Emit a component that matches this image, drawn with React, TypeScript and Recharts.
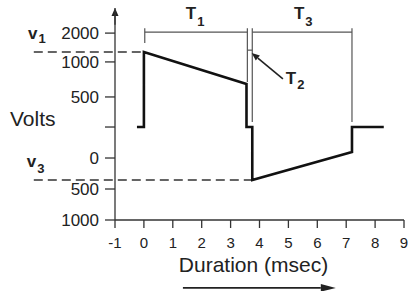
import React from 'react';
import { LineChart, Line, XAxis, YAxis, ReferenceLine, ReferenceDot } from 'recharts';

// waveform, x in msec, y in axis position units (the volts axis is not linear)
const waveT = [-0.24, 0, 0, 3.55, 3.55, 3.75, 3.75, 7.2, 7.2, 8.3];
const waveV = [3.0, 3.0, 5.42, 4.39, 3.0, 3.0, 1.29, 2.19, 3.0, 3.0];

const xTicks = [-1, 0, 1, 2, 3, 4, 5, 6, 7, 8, 9];
const yTickPos = [0, 1, 2, 3, 3.97, 5.1, 6.03];
const yTickLabels = ['1000', '500', '0', '', '500', '1000', '2000'];

// v1 / v3 levels and where their dashes start
const v1Level = 5.42;
const v3Level = 1.29;
const dashStart = -3.81;

// timing brackets (T1, T2, T3)
const brackets: [number, number, number, number][] = [
  [0.03, 6.06, 3.58, 6.06],
  [0.03, 6.19, 0.03, 5.71],
  [3.58, 6.19, 3.58, 4.45],
  [3.75, 6.19, 3.75, 3.16],
  [3.58, 5.48, 3.75, 5.48],
  [3.75, 6.06, 7.2, 6.06],
  [7.2, 6.19, 7.2, 3.16],
];

const labels = [
  { main: 'T', sub: '1', x: 1.45, y: 6.48, subDy: 7 },
  { main: 'T', sub: '3', x: 5.19, y: 6.48, subDy: 7 },
  { main: 'T', sub: '2', x: 4.91, y: 4.39, subDy: 5 },
  { main: 'v', sub: '1', x: -4.01, y: 5.84, subDy: 4 },
  { main: 'v', sub: '3', x: -4.05, y: 1.71, subDy: 6 },
];

const data = waveT.map((t, i) => ({ t, v: waveV[i] }));

const FONT = "'Liberation Sans', Arial, Helvetica, sans-serif";

const ArrowShape = (props: any) => {
  const { x1, y1, x2, y2, stroke, strokeWidth, headLen = 9, headHalf = 3.5 } = props;
  const a = Math.atan2(y2 - y1, x2 - x1);
  const c = Math.cos(a);
  const s = Math.sin(a);
  const bx = x2 - headLen * c;
  const by = y2 - headLen * s;
  const pts = `${x2},${y2} ${bx - headHalf * s},${by + headHalf * c} ${bx + headHalf * s},${by - headHalf * c}`;
  return (
    <g>
      <line x1={x1} y1={y1} x2={bx} y2={by} stroke={stroke} strokeWidth={strokeWidth} />
      <polygon points={pts} fill={stroke} />
    </g>
  );
};

const SubLabel = (props: any) => {
  const { cx, cy, main, sub, subDy } = props;
  return (
    <text x={cx} y={cy} fill="#222" fontFamily={FONT} fontWeight="bold" fontSize={17}>
      <tspan>{main}</tspan>
      <tspan dx={1} dy={subDy} fontSize={13}>{sub}</tspan>
    </text>
  );
};

const App: React.FC = () => {
  return (
    <div style={{ position: 'absolute', left: 0, top: 0, fontFamily: FONT }}>
      <LineChart width={412} height={291} data={data} margin={{ top: 8, right: 8, left: 10, bottom: 41 }}>
        <XAxis
          dataKey="t"
          type="number"
          domain={[-1, 9]}
          ticks={xTicks}
          interval={0}
          tickSize={8}
          tickMargin={9}
          stroke="#333"
          strokeWidth={1.3}
          tick={{ fill: '#222', fontSize: 15 }}
          label={{ value: 'Duration (msec)', position: 'bottom', offset: 7, dx: -6, fontSize: 21, fill: '#222' }}
        />
        <YAxis
          type="number"
          domain={[0, 6.84]}
          ticks={yTickPos}
          interval={0}
          width={105}
          tickSize={10}
          tickMargin={6}
          stroke="#333"
          strokeWidth={1.3}
          tick={{ fill: '#222', fontSize: 17 }}
          tickFormatter={(_v: number, i: number) => yTickLabels[i]}
          label={{ value: 'Volts', position: 'insideLeft', offset: 0, dy: 5, fontSize: 21, fill: '#222' }}
        />
        <ReferenceLine
          segment={[{ x: -1, y: 6.3 }, { x: -1, y: 6.84 }]}
          ifOverflow="visible"
          stroke="#222"
          strokeWidth={1.3}
          shape={(p: any) => <ArrowShape {...p} headLen={8} headHalf={3.5} />}
        />
        <ReferenceLine
          segment={[{ x: dashStart, y: v1Level }, { x: 0, y: v1Level }]}
          ifOverflow="visible"
          stroke="#333"
          strokeWidth={1.5}
          strokeDasharray="9 5"
        />
        <ReferenceLine
          segment={[{ x: dashStart, y: v3Level }, { x: 3.75, y: v3Level }]}
          ifOverflow="visible"
          stroke="#333"
          strokeWidth={1.5}
          strokeDasharray="9 5"
        />
        {brackets.map(([x1, y1, x2, y2], i) => (
          <ReferenceLine
            key={`b${i}`}
            segment={[{ x: x1, y: y1 }, { x: x2, y: y2 }]}
            ifOverflow="visible"
            stroke="#555"
            strokeWidth={1.2}
          />
        ))}
        <ReferenceLine
          segment={[{ x: 4.81, y: 4.55 }, { x: 3.73, y: 5.39 }]}
          ifOverflow="visible"
          stroke="#222"
          strokeWidth={1.6}
          shape={(p: any) => <ArrowShape {...p} headLen={8} headHalf={3.2} />}
        />
        <ReferenceLine
          segment={[{ x: 1.35, y: -2.19 }, { x: 6.64, y: -2.19 }]}
          ifOverflow="visible"
          stroke="#222"
          strokeWidth={1.8}
          shape={(p: any) => <ArrowShape {...p} headLen={15} headHalf={3.8} />}
        />
        {labels.map((l, i) => (
          <ReferenceDot
            key={`l${i}`}
            x={l.x}
            y={l.y}
            ifOverflow="visible"
            shape={(p: any) => <SubLabel {...p} main={l.main} sub={l.sub} subDy={l.subDy} />}
          />
        ))}
        <Line
          type="linear"
          dataKey="v"
          stroke="#111"
          strokeWidth={2.6}
          dot={false}
          strokeLinejoin="miter"
          isAnimationActive={false}
        />
      </LineChart>
    </div>
  );
};

export default App;
